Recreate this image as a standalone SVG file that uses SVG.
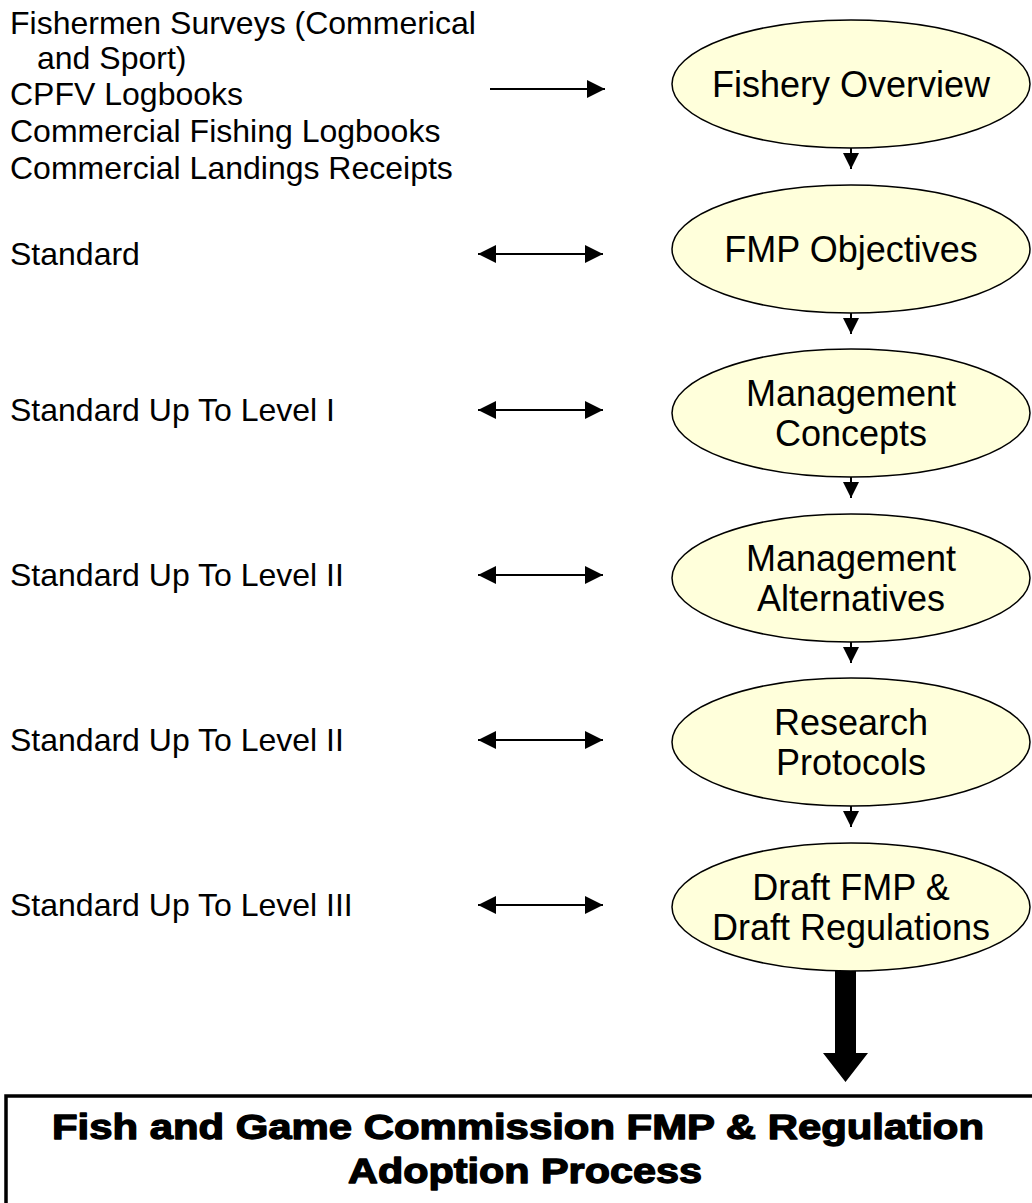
<svg xmlns="http://www.w3.org/2000/svg" width="1032" height="1203" viewBox="0 0 1032 1203">
<style>
.lbl{font-family:"Liberation Sans",Arial,sans-serif;font-size:32px;fill:#000}
.nt{font-family:"Liberation Sans",Arial,sans-serif;font-size:36px;fill:#000;text-anchor:middle}
.el{fill:#FFFFDB;stroke:#000;stroke-width:1.5}
.ln{stroke:#000;stroke-width:2;fill:none}
.bt{font-family:"Liberation Sans",Arial,sans-serif;font-size:35px;font-weight:bold;fill:#000;stroke:#000;stroke-width:1.3;stroke-linejoin:round;text-anchor:middle}
</style>
<defs>
<marker id="ah" viewBox="0 0 18 18" refX="18" refY="9" markerWidth="18" markerHeight="18" markerUnits="userSpaceOnUse" orient="auto-start-reverse">
<path d="M0,0 L18,9 L0,18 Z" fill="#000"/>
</marker>
<marker id="dh" viewBox="0 0 16 16" refX="16" refY="8" markerWidth="16" markerHeight="16" markerUnits="userSpaceOnUse" orient="auto">
<path d="M0,0 L16,8 L0,16 Z" fill="#000"/>
</marker>
</defs>
<rect width="1032" height="1203" fill="#fff"/>

<g id="sources">
<text class="lbl" x="10" y="34">Fishermen Surveys (Commerical</text>
<text class="lbl" x="37" y="69">and Sport)</text>
<text class="lbl" x="10" y="105">CPFV Logbooks</text>
<text class="lbl" x="10" y="142">Commercial Fishing Logbooks</text>
<text class="lbl" x="10" y="179">Commercial Landings Receipts</text>
</g>
<g id="lbl-standard"><text class="lbl" x="10" y="265">Standard</text></g>
<g id="lbl-level1"><text class="lbl" x="10" y="421">Standard Up To Level I</text></g>
<g id="lbl-level2a"><text class="lbl" x="10" y="586">Standard Up To Level II</text></g>
<g id="lbl-level2b"><text class="lbl" x="10" y="751">Standard Up To Level II</text></g>
<g id="lbl-level3"><text class="lbl" x="10" y="916">Standard Up To Level III</text></g>

<g id="n-overview">
<ellipse class="el" cx="851" cy="84" rx="179" ry="64"/>
<text class="nt" x="851" y="97">Fishery Overview</text>
</g>
<g id="n-objectives">
<ellipse class="el" cx="851" cy="249" rx="179" ry="64"/>
<text class="nt" x="851" y="262">FMP Objectives</text>
</g>
<g id="n-concepts">
<ellipse class="el" cx="851" cy="413" rx="179" ry="64"/>
<text class="nt" x="851" y="406">Management</text>
<text class="nt" x="851" y="446">Concepts</text>
</g>
<g id="n-alternatives">
<ellipse class="el" cx="851" cy="578" rx="179" ry="64"/>
<text class="nt" x="851" y="571">Management</text>
<text class="nt" x="851" y="611">Alternatives</text>
</g>
<g id="n-research">
<ellipse class="el" cx="851" cy="742" rx="179" ry="64"/>
<text class="nt" x="851" y="735">Research</text>
<text class="nt" x="851" y="775">Protocols</text>
</g>
<g id="n-draft">
<ellipse class="el" cx="851" cy="907" rx="179" ry="64"/>
<text class="nt" x="851" y="900">Draft FMP &amp;</text>
<text class="nt" x="851" y="940">Draft Regulations</text>
</g>

<g id="n-commission">
<rect x="6" y="1096" width="1040" height="130" fill="#fff" stroke="#000" stroke-width="3.5"/>
<text class="bt" x="518" y="1139" textLength="932" lengthAdjust="spacingAndGlyphs">Fish and Game Commission FMP &amp; Regulation</text>
<text class="bt" x="525" y="1183" textLength="354" lengthAdjust="spacingAndGlyphs">Adoption Process</text>
</g>

<g id="connectors">
<line class="ln" x1="490" y1="89" x2="605" y2="89" marker-end="url(#ah)"/>
<line class="ln" x1="478" y1="254" x2="603" y2="254" marker-start="url(#ah)" marker-end="url(#ah)"/>
<line class="ln" x1="478" y1="410" x2="603" y2="410" marker-start="url(#ah)" marker-end="url(#ah)"/>
<line class="ln" x1="478" y1="575" x2="603" y2="575" marker-start="url(#ah)" marker-end="url(#ah)"/>
<line class="ln" x1="478" y1="740" x2="603" y2="740" marker-start="url(#ah)" marker-end="url(#ah)"/>
<line class="ln" x1="478" y1="905" x2="603" y2="905" marker-start="url(#ah)" marker-end="url(#ah)"/>
<line class="ln" x1="851" y1="148" x2="851" y2="169" marker-end="url(#dh)"/>
<line class="ln" x1="851" y1="313" x2="851" y2="334" marker-end="url(#dh)"/>
<line class="ln" x1="851" y1="477" x2="851" y2="498" marker-end="url(#dh)"/>
<line class="ln" x1="851" y1="642" x2="851" y2="663" marker-end="url(#dh)"/>
<line class="ln" x1="851" y1="806" x2="851" y2="827" marker-end="url(#dh)"/>
<path d="M835,971 L856,971 L856,1053 L868,1053 L845.5,1082 L823,1053 L835,1053 Z" fill="#000"/>
</g>
</svg>
